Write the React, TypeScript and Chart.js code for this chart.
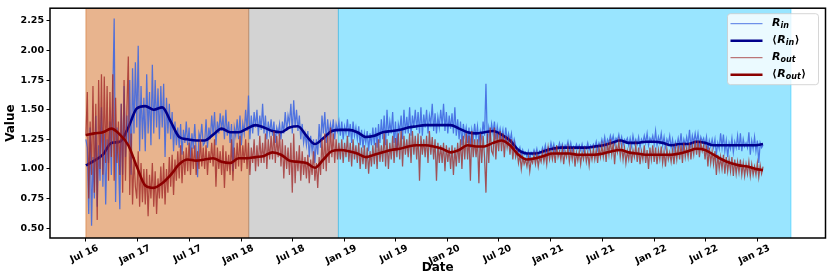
import React, { useEffect, useRef } from 'react';
import { Chart, registerables } from 'chart.js';

Chart.register(...registerables);

// ---------------- data ----------------
const START_DATE = '2016-07-01';
const RAW_STEP_DAYS = 5;
const SMOOTH_STEP_DAYS = 30;
const SMOOTH_LAST_DAY = 2395;

const R_IN = [
  1.25, 1.18, 0.62, 1.35, 0.52, 1.10,
  0.75, 1.45, 0.68, 1.20, 0.90, 1.52,
  0.85, 1.30, 0.70, 1.25, 1.05, 1.40,
  0.95, 1.60, 2.27, 0.72, 1.35, 1.10,
  0.66, 1.55, 0.95, 1.70, 1.10, 1.45,
  1.20, 1.75, 0.95, 1.85, 1.30, 1.90,
  1.35, 2.04, 1.15, 1.70, 1.25, 1.60,
  1.15, 1.80, 1.30, 1.65, 1.20, 1.88,
  1.30, 1.75, 1.35, 1.68, 1.25, 1.70,
  1.35, 1.72, 1.10, 1.60, 1.30, 1.55,
  1.25, 1.48, 1.15, 1.40, 1.20, 1.35,
  1.18, 1.38, 1.12, 1.33, 1.22, 1.40,
  1.20, 1.35, 1.08, 1.30, 1.17, 1.38,
  1.15, 0.93, 1.30, 1.25, 1.38, 1.20,
  1.22, 1.42, 1.18, 1.35, 1.25, 1.45,
  1.28, 1.48, 1.20, 1.40, 1.30, 1.47,
  1.32, 1.45, 1.25, 1.50, 1.28, 1.40,
  1.22, 1.38, 0.98, 1.35, 1.28, 1.42,
  1.25, 1.45, 1.20, 1.38, 1.30, 1.50,
  1.32, 1.62, 1.25, 1.45, 1.30, 1.48,
  1.35, 1.50, 1.28, 1.45, 1.33, 1.55,
  1.30, 1.45, 1.25, 1.40, 1.30, 1.42,
  1.28, 1.40, 1.22, 1.35, 1.30, 1.38,
  1.25, 1.40, 1.30, 1.48, 1.32, 1.45,
  1.38, 1.55, 1.30, 1.58, 1.35, 1.50,
  1.32, 1.45, 1.25, 1.38, 1.22, 1.30,
  1.20, 1.32, 1.10, 1.28, 1.15, 1.25,
  1.05, 1.25, 1.12, 1.38, 1.18, 1.45,
  1.30, 1.48, 1.22, 1.42, 1.28, 1.38,
  1.30, 1.42, 1.25, 1.38, 1.32, 1.40,
  1.28, 1.40, 1.25, 1.36, 1.30, 1.42,
  1.27, 1.38, 1.22, 1.40, 1.28, 1.35,
  1.25, 1.36, 1.20, 1.33, 1.18, 1.30,
  1.22, 1.32, 1.15, 1.30, 1.20, 1.35,
  1.20, 1.35, 1.18, 1.38, 1.22, 1.42,
  1.25, 1.45, 1.20, 1.50, 1.28, 1.40,
  1.30, 1.48, 1.22, 1.40, 1.15, 1.38,
  1.32, 1.45, 1.25, 1.50, 1.30, 1.44,
  1.30, 1.52, 1.28, 1.45, 1.35, 1.50,
  1.33, 1.48, 1.30, 1.52, 1.28, 1.46,
  1.35, 1.50, 1.30, 1.45, 1.38, 1.55,
  1.32, 1.47, 1.30, 1.44, 1.35, 1.50,
  1.36, 1.55, 1.32, 1.48, 1.30, 1.45,
  1.34, 1.47, 1.30, 1.52, 1.28, 1.42,
  1.25, 1.40, 1.20, 1.38, 1.28, 1.35,
  1.22, 1.35, 1.18, 1.33, 1.25, 1.38,
  1.26, 1.36, 1.22, 1.32, 1.25, 1.40,
  1.28, 1.72, 1.22, 1.35, 1.27, 1.38,
  1.30, 1.40, 1.25, 1.36, 1.28, 1.34,
  1.26, 1.33, 1.22, 1.35, 1.24, 1.30,
  1.24, 1.30, 1.18, 1.25, 1.20, 1.15,
  1.14, 1.18, 1.10, 1.16, 1.12, 1.14,
  1.10, 1.15, 1.08, 1.14, 1.12, 1.16,
  1.12, 1.17, 1.10, 1.15, 1.13, 1.18,
  1.14, 1.20, 1.12, 1.18, 1.15, 1.22,
  1.16, 1.21, 1.14, 1.19, 1.17, 1.22,
  1.17, 1.21, 1.15, 1.20, 1.18, 1.23,
  1.16, 1.22, 1.15, 1.19, 1.17, 1.21,
  1.17, 1.20, 1.16, 1.21, 1.15, 1.19,
  1.17, 1.22, 1.16, 1.20, 1.18, 1.21,
  1.18, 1.23, 1.16, 1.22, 1.19, 1.25,
  1.20, 1.27, 1.19, 1.25, 1.22, 1.28,
  1.23, 1.28, 1.21, 1.26, 1.24, 1.29,
  1.22, 1.27, 1.20, 1.25, 1.23, 1.26,
  1.20, 1.26, 1.19, 1.28, 1.21, 1.25,
  1.21, 1.27, 1.18, 1.25, 1.22, 1.28,
  1.22, 1.30, 1.20, 1.26, 1.23, 1.28,
  1.21, 1.32, 1.20, 1.27, 1.22, 1.30,
  1.20, 1.27, 1.18, 1.25, 1.21, 1.28,
  1.18, 1.25, 1.16, 1.23, 1.19, 1.26,
  1.19, 1.30, 1.17, 1.25, 1.20, 1.27,
  1.20, 1.33, 1.18, 1.28, 1.22, 1.30,
  1.22, 1.30, 1.20, 1.27, 1.23, 1.26,
  1.20, 1.27, 1.15, 1.24, 1.19, 1.25,
  1.18, 1.25, 1.12, 1.22, 1.17, 1.30,
  1.18, 1.29, 1.15, 1.24, 1.10, 1.22,
  1.17, 1.26, 1.14, 1.23, 1.18, 1.28,
  1.16, 1.30, 1.15, 1.25, 1.19, 1.22,
  1.18, 1.31, 1.12, 1.24, 1.17, 1.27,
  1.15, 1.24, 1.05, 1.22, 1.18, 1.20,
];

const R_OUT = [
  1.28, 1.65, 0.75, 1.40, 0.95, 1.70,
  0.80, 1.55, 0.57, 1.75, 1.00, 1.80,
  0.95, 1.78, 1.05, 1.70, 0.90, 1.65,
  1.10, 1.80, 0.90, 1.60, 1.05, 1.40,
  0.95, 1.55, 0.80, 1.75, 0.90, 1.50,
  1.95, 0.78, 1.30, 0.70, 1.10, 0.85,
  0.75, 1.15, 0.68, 1.05, 0.72, 1.00,
  0.70, 1.00, 0.60, 0.95, 0.75, 1.05,
  0.68, 0.98, 0.62, 0.92, 0.75, 1.02,
  0.75, 1.05, 0.70, 1.00, 0.80, 1.10,
  0.85, 1.12, 0.78, 1.08, 0.90, 1.15,
  0.92, 1.20, 0.88, 1.15, 0.95, 1.18,
  0.98, 1.22, 0.95, 1.18, 1.00, 1.20,
  0.95, 1.15, 1.00, 1.25, 1.02, 1.18,
  1.00, 1.20, 0.95, 1.15, 1.05, 1.22,
  1.02, 1.25, 0.85, 1.18, 1.00, 1.15,
  0.95, 1.20, 0.84, 1.15, 0.98, 1.12,
  0.95, 1.25, 0.90, 1.18, 1.00, 1.22,
  1.02, 1.28, 0.98, 1.20, 1.05, 1.25,
  1.00, 1.22, 0.95, 1.18, 1.05, 1.25,
  0.98, 1.20, 1.02, 1.28, 1.05, 1.22,
  1.05, 1.30, 1.00, 1.25, 1.08, 1.28,
  1.08, 1.32, 1.05, 1.28, 1.10, 1.30,
  1.02, 1.25, 0.92, 1.20, 1.00, 1.18,
  0.95, 1.22, 0.80, 1.30, 0.88, 1.15,
  0.98, 1.20, 0.90, 1.15, 0.95, 1.10,
  0.92, 1.12, 0.88, 1.08, 0.95, 1.15,
  0.90, 1.05, 0.84, 1.10, 0.95, 1.25,
  1.00, 1.30, 0.98, 1.28, 1.05, 1.35,
  1.10, 1.30, 1.05, 1.25, 1.08, 1.22,
  1.08, 1.25, 1.05, 1.22, 1.10, 1.28,
  1.06, 1.22, 1.02, 1.25, 1.08, 1.20,
  1.05, 1.22, 1.00, 1.18, 1.04, 1.20,
  1.00, 1.18, 0.96, 1.15, 1.02, 1.20,
  1.04, 1.22, 1.00, 1.25, 1.06, 1.20,
  1.06, 1.30, 1.02, 1.25, 1.00, 1.22,
  1.08, 1.28, 1.05, 1.26, 1.10, 1.30,
  1.08, 1.32, 1.02, 1.28, 1.12, 1.25,
  1.10, 1.30, 1.05, 1.32, 1.12, 1.28,
  1.08, 1.30, 0.90, 1.28, 1.12, 1.25,
  1.10, 1.28, 1.05, 1.32, 1.12, 1.27,
  1.08, 1.25, 0.90, 1.22, 1.05, 1.20,
  1.05, 1.22, 0.98, 1.20, 1.06, 1.18,
  1.00, 1.20, 0.95, 1.18, 1.02, 1.22,
  1.05, 1.25, 1.00, 1.28, 1.08, 1.30,
  1.08, 1.28, 0.90, 1.32, 1.10, 1.25,
  1.10, 1.25, 0.88, 1.30, 1.05, 1.28,
  1.10, 0.80, 1.30, 1.05, 1.35, 1.15,
  1.12, 1.35, 1.08, 1.30, 1.15, 1.32,
  1.15, 1.30, 1.10, 1.28, 1.18, 1.25,
  1.12, 1.25, 1.08, 1.20, 1.10, 1.15,
  1.05, 1.12, 1.00, 1.10, 1.04, 1.08,
  1.02, 1.10, 0.98, 1.08, 1.05, 1.12,
  1.04, 1.12, 1.02, 1.10, 1.06, 1.14,
  1.06, 1.14, 1.04, 1.18, 1.08, 1.15,
  1.08, 1.16, 1.05, 1.20, 1.10, 1.15,
  1.08, 1.17, 1.04, 1.15, 1.10, 1.18,
  1.06, 1.16, 1.08, 1.18, 1.02, 1.14,
  1.07, 1.15, 1.04, 1.14, 1.08, 1.16,
  1.06, 1.14, 1.03, 1.15, 1.08, 1.17,
  1.08, 1.16, 1.05, 1.18, 1.10, 1.20,
  1.10, 1.20, 1.06, 1.22, 1.12, 1.25,
  1.12, 1.22, 1.04, 1.20, 1.14, 1.23,
  1.10, 1.20, 1.08, 1.18, 1.05, 1.15,
  1.08, 1.18, 1.05, 1.16, 1.10, 1.20,
  1.06, 1.18, 1.04, 1.15, 1.08, 1.20,
  1.05, 1.16, 1.00, 1.18, 1.08, 1.20,
  1.06, 1.18, 1.04, 1.16, 1.08, 1.19,
  1.05, 1.15, 1.02, 1.17, 1.08, 1.14,
  1.06, 1.16, 1.04, 1.18, 1.08, 1.20,
  1.08, 1.20, 1.05, 1.22, 1.10, 1.18,
  1.10, 1.22, 1.08, 1.20, 1.12, 1.24,
  1.12, 1.24, 1.10, 1.22, 1.15, 1.20,
  1.08, 1.20, 1.02, 1.18, 1.05, 1.15,
  1.04, 1.15, 0.95, 1.12, 1.00, 1.10,
  1.00, 1.12, 0.96, 1.10, 0.98, 1.08,
  0.98, 1.10, 0.94, 1.08, 0.96, 1.06,
  0.97, 1.08, 0.95, 1.05, 0.94, 1.04,
  0.96, 1.06, 0.94, 1.04, 0.95, 1.02,
  0.95, 1.05, 0.93, 1.03, 0.96, 1.02,
];

const R_IN_SMOOTH = [
  1.03, 1.07, 1.12, 1.22, 1.23, 1.35, 1.51, 1.53, 1.50, 1.52,
  1.40, 1.27, 1.25, 1.24, 1.24, 1.29, 1.34, 1.31, 1.31, 1.34,
  1.37, 1.35, 1.32, 1.31, 1.35, 1.36, 1.28, 1.21, 1.26, 1.32,
  1.33, 1.33, 1.31, 1.27, 1.28, 1.31, 1.32, 1.33, 1.35, 1.36,
  1.37, 1.37, 1.37, 1.37, 1.34, 1.31, 1.30, 1.31, 1.32, 1.29,
  1.24, 1.16, 1.13, 1.13, 1.15, 1.17, 1.18, 1.18, 1.18, 1.18,
  1.19, 1.20, 1.22, 1.24, 1.22, 1.22, 1.23, 1.23, 1.22, 1.20,
  1.21, 1.21, 1.23, 1.22, 1.20, 1.20, 1.20, 1.20, 1.20, 1.20,
  1.21,
];

const R_OUT_SMOOTH = [
  1.285, 1.30, 1.31, 1.34, 1.29, 1.20, 1.02, 0.86, 0.84, 0.88,
  0.95, 1.04, 1.08, 1.07, 1.08, 1.09, 1.06, 1.05, 1.09, 1.09,
  1.10, 1.11, 1.14, 1.12, 1.07, 1.06, 1.05, 1.01, 1.08, 1.15,
  1.16, 1.15, 1.13, 1.10, 1.12, 1.14, 1.16, 1.17, 1.19, 1.20,
  1.20, 1.19, 1.17, 1.14, 1.16, 1.20, 1.19, 1.19, 1.22, 1.24,
  1.20, 1.12, 1.08, 1.09, 1.11, 1.13, 1.13, 1.13, 1.12, 1.12,
  1.12, 1.13, 1.15, 1.16, 1.14, 1.13, 1.12, 1.12, 1.12, 1.12,
  1.13, 1.15, 1.17, 1.16, 1.12, 1.08, 1.05, 1.03, 1.02, 1.00,
  0.99,
];

const TICK_DATES = [
  '2016-07-01', '2017-01-01', '2017-07-01', '2018-01-01', '2018-07-01',
  '2019-01-01', '2019-07-01', '2020-01-01', '2020-07-01', '2021-01-01',
  '2021-07-01', '2022-01-01', '2022-07-01', '2023-01-01',
];
const TICK_LABELS = [
  'Jul 16', 'Jan 17', 'Jul 17', 'Jan 18', 'Jul 18', 'Jan 19', 'Jul 19',
  'Jan 20', 'Jul 20', 'Jan 21', 'Jul 21', 'Jan 22', 'Jul 22', 'Jan 23',
];
const Y_TICKS = [0.5, 0.75, 1.0, 1.25, 1.5, 1.75, 2.0, 2.25];

const PERIOD_STARTS = ['2016-07-01', '2018-01-28', '2018-12-11'];
const PERIOD_ENDS = ['2018-01-28', '2018-12-11', '2023-04-30'];

const X_MIN_DATE = '2016-02-25';
const X_MAX_DATE = '2023-08-30';
const Y_MIN = 0.417;
const Y_MAX = 2.357;

const SERIES_NAMES = ['R_in', '⟨R_in⟩', 'R_out', '⟨R_out⟩'];

// ---------------- styles ----------------
const DAY = 86400000;
const FONT = '"DejaVu Sans", "Liberation Sans", sans-serif';
const PERIOD_COLORS = ['rgba(210,105,30,0.5)', 'rgba(128,128,128,0.35)', 'rgba(0,191,255,0.4)'];
const LINE_COLORS = ['rgba(65,105,225,0.9)', '#00008B', 'rgba(160,40,40,0.78)', '#8B0000'];
const LINE_WIDTHS = [1.25, 2.6, 1.25, 2.6];
const LEGEND_LINE_WIDTHS = [1, 2.5, 1, 2.5];

const spansPlugin = {
  id: 'spans',
  beforeDatasetsDraw(chart: any) {
    const { ctx, chartArea, scales } = chart;
    const x = scales.x;
    ctx.save();
    ctx.beginPath();
    ctx.rect(chartArea.left, chartArea.top, chartArea.right - chartArea.left, chartArea.bottom - chartArea.top);
    ctx.clip();
    PERIOD_STARTS.forEach((s, i) => {
      const x0 = x.getPixelForValue(Date.parse(s));
      const x1 = x.getPixelForValue(Date.parse(PERIOD_ENDS[i]));
      ctx.fillStyle = PERIOD_COLORS[i];
      ctx.fillRect(x0, chartArea.top, x1 - x0, chartArea.bottom - chartArea.top);
      ctx.strokeStyle = PERIOD_COLORS[i];
      ctx.lineWidth = 1;
      ctx.beginPath();
      ctx.moveTo(x0, chartArea.top);
      ctx.lineTo(x0, chartArea.bottom);
      ctx.moveTo(x1, chartArea.top);
      ctx.lineTo(x1, chartArea.bottom);
      ctx.stroke();
    });
    ctx.restore();
  },
};

function drawLegendLabel(ctx: CanvasRenderingContext2D, x: number, y: number, name: string) {
  const bracket = name.startsWith('⟨');
  const sub = name.replace(/[⟨⟩]/g, '').split('_')[1];
  let cx = x;
  ctx.fillStyle = '#000';
  ctx.textAlign = 'left';
  ctx.textBaseline = 'middle';
  if (bracket) {
    ctx.font = `bold 10.5px ${FONT}`;
    ctx.fillText('⟨', cx, y);
    cx += ctx.measureText('⟨').width + 0.5;
  }
  ctx.font = `italic bold 11px ${FONT}`;
  ctx.fillText('R', cx, y - 1);
  cx += ctx.measureText('R').width;
  ctx.font = `italic bold 8px ${FONT}`;
  ctx.fillText(sub, cx, y + 2.5);
  cx += ctx.measureText(sub).width;
  if (bracket) {
    ctx.font = `bold 10.5px ${FONT}`;
    ctx.fillText('⟩', cx + 0.5, y);
  }
}

const framePlugin = {
  id: 'frame',
  afterDatasetsDraw(chart: any) {
    const { ctx, chartArea } = chart;
    ctx.save();
    ctx.strokeStyle = '#000';
    ctx.lineWidth = 1.5;
    ctx.strokeRect(chartArea.left, chartArea.top, chartArea.right - chartArea.left, chartArea.bottom - chartArea.top);
    ctx.restore();
  },
  afterDraw(chart: any) {
    const { ctx, chartArea } = chart;
    ctx.save();
    const bx = chartArea.right - 98;
    const by = chartArea.top + 5.5;
    const bw = 91;
    const bh = 71;
    ctx.beginPath();
    (ctx as any).roundRect(bx, by, bw, bh, 3);
    ctx.fillStyle = 'rgba(255,255,255,0.8)';
    ctx.fill();
    ctx.strokeStyle = 'rgba(204,204,204,0.8)';
    ctx.lineWidth = 1;
    ctx.stroke();
    SERIES_NAMES.forEach((name, i) => {
      const ry = by + 10 + i * 17;
      ctx.beginPath();
      ctx.strokeStyle = LINE_COLORS[i];
      ctx.lineWidth = LEGEND_LINE_WIDTHS[i];
      ctx.moveTo(bx + 3, ry);
      ctx.lineTo(bx + 35, ry);
      ctx.stroke();
      drawLegendLabel(ctx, bx + 44.5, ry, name);
    });
    ctx.restore();
  },
};

export default function App() {
  const canvasRef = useRef<HTMLCanvasElement | null>(null);

  useEffect(() => {
    if (!canvasRef.current) return;
    const t0 = Date.parse(START_DATE);
    const rawIn = R_IN.map((v, i) => ({ x: t0 + i * RAW_STEP_DAYS * DAY, y: v }));
    const rawOut = R_OUT.map((v, i) => ({ x: t0 + i * RAW_STEP_DAYS * DAY, y: v }));
    const smoothDay = (i: number, n: number) => (i === n - 1 ? SMOOTH_LAST_DAY : i * SMOOTH_STEP_DAYS);
    const smIn = R_IN_SMOOTH.map((v, i) => ({ x: t0 + smoothDay(i, R_IN_SMOOTH.length) * DAY, y: v }));
    const smOut = R_OUT_SMOOTH.map((v, i) => ({ x: t0 + smoothDay(i, R_OUT_SMOOTH.length) * DAY, y: v }));
    const series = [rawIn, smIn, rawOut, smOut];

    const tickFont = { family: FONT, weight: 'bold' as const, size: 9.5 };
    const chart = new Chart(canvasRef.current, {
      type: 'line',
      data: {
        datasets: series.map((d, i) => ({
          label: SERIES_NAMES[i],
          data: d,
          borderColor: LINE_COLORS[i],
          borderWidth: LINE_WIDTHS[i],
          pointRadius: 0,
          fill: false,
          tension: i % 2 === 1 ? 0.4 : 0,
          cubicInterpolationMode: i % 2 === 1 ? ('monotone' as const) : ('default' as const),
          order: 3 - i,
        })),
      },
      options: {
        animation: false,
        responsive: false,
        devicePixelRatio: 1,
        parsing: false as any,
        normalized: true,
        layout: { padding: { top: 3, right: 4.5, left: 0, bottom: 0 } },
        plugins: { legend: { display: false }, tooltip: { enabled: false } },
        scales: {
          x: {
            type: 'linear',
            min: Date.parse(X_MIN_DATE),
            max: Date.parse(X_MAX_DATE),
            afterBuildTicks: (scale: any) => {
              scale.ticks = TICK_DATES.map((d) => ({ value: Date.parse(d) }));
            },
            afterFit: (scale: any) => {
              scale.height = 39;
            },
            grid: { drawOnChartArea: false, drawTicks: true, tickLength: 3.5, tickColor: '#000', tickWidth: 1 },
            border: { display: false },
            ticks: {
              autoSkip: false,
              minRotation: 25,
              maxRotation: 25,
              labelOffset: 12,
              padding: 1,
              color: '#000',
              font: tickFont,
              callback: (_v: any, idx: number) => TICK_LABELS[idx],
            },
            title: {
              display: true,
              text: 'Date',
              color: '#000',
              font: { family: FONT, weight: 'bold', size: 12 },
              padding: { top: 0, bottom: 1.5 },
            },
          },
          y: {
            type: 'linear',
            min: Y_MIN,
            max: Y_MAX,
            afterBuildTicks: (scale: any) => {
              scale.ticks = Y_TICKS.map((v) => ({ value: v }));
            },
            afterFit: (scale: any) => {
              scale.width = 50;
            },
            grid: { drawOnChartArea: false, drawTicks: true, tickLength: 3.5, tickColor: '#000', tickWidth: 1 },
            border: { display: false },
            ticks: {
              padding: 2.5,
              color: '#000',
              font: tickFont,
              callback: (v: any) => Number(v).toFixed(2),
            },
            title: {
              display: true,
              text: 'Value',
              color: '#000',
              font: { family: FONT, weight: 'bold', size: 12 },
              padding: { top: 4, bottom: 0 },
            },
          },
        },
      },
      plugins: [spansPlugin, framePlugin],
    });
    return () => chart.destroy();
  }, []);

  return (
    <div style={{ position: 'absolute', left: 0, top: 0, width: 830, height: 277, background: '#fff' }}>
      <canvas ref={canvasRef} width={830} height={277} style={{ display: 'block' }} />
    </div>
  );
}
